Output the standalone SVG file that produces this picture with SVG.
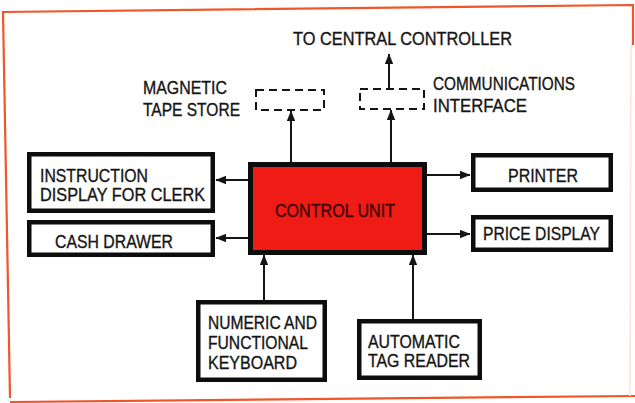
<svg xmlns="http://www.w3.org/2000/svg" width="635" height="403" viewBox="0 0 635 403">
<defs>
<style>
.t{font-family:"Liberation Sans",Arial,sans-serif;font-size:18px;fill:#151515;stroke:#151515;stroke-width:0.35}
.box{fill:#fff;stroke:#0d0d0d;stroke-width:4.5}
.dash{fill:none;stroke:#151515;stroke-width:2;stroke-dasharray:8 5}
.cu{fill:#ee1c14;stroke:#0d0d0d;stroke-width:5}
.ln{fill:none;stroke:#151515;stroke-width:2;marker-end:url(#ah)}
.fr{fill:none;stroke:#f0562a;stroke-width:2.2}
</style>
<marker id="ah" viewBox="0 0 10 8" refX="9.5" refY="4" markerWidth="5.5" markerHeight="4.4" markerUnits="strokeWidth" orient="auto">
<path d="M0,0 L10,4 L0,8 Z" fill="#151515"/>
</marker>
</defs>
<rect width="635" height="403" fill="#fff"/>
<g id="frame">
<path class="fr" d="M10,398 L3,12 L633,5 L633,45"/>
<path class="fr" d="M10,402 L635,396"/>
<path d="M631,45 L630,396" fill="none" stroke="#fbe3da" stroke-width="1.5"/>
</g>
<g id="connectors">
<path class="ln" d="M291,162 L291,111"/>
<path class="ln" d="M391,162 L391,110"/>
<path class="ln" d="M389,88 L389,54"/>
<path class="ln" d="M248,180 L216,180"/>
<path class="ln" d="M248,238 L216,238"/>
<path class="ln" d="M427,175 L470,175"/>
<path class="ln" d="M427,234 L470,234"/>
<path class="ln" d="M264,300 L264,255"/>
<path class="ln" d="M413,319 L413,255"/>
</g>
<g id="control-unit">
<rect class="cu" x="250.5" y="164.5" width="174" height="88"/>
<text class="t" x="275" y="217" textLength="120" lengthAdjust="spacingAndGlyphs" style="fill:#3a0606;stroke:#3a0606">CONTROL UNIT</text>
</g>
<g id="instruction-display">
<rect class="box" x="29.25" y="154.25" width="183.5" height="56.5"/>
<text class="t" x="40" y="182" textLength="108" lengthAdjust="spacingAndGlyphs">INSTRUCTION</text>
<text class="t" x="40" y="201" textLength="165" lengthAdjust="spacingAndGlyphs">DISPLAY FOR CLERK</text>
</g>
<g id="cash-drawer">
<rect class="box" x="29.25" y="222.25" width="183.5" height="32.5"/>
<text class="t" x="55" y="248" textLength="118" lengthAdjust="spacingAndGlyphs">CASH DRAWER</text>
</g>
<g id="printer">
<rect class="box" x="473.25" y="155.25" width="137.5" height="34.5"/>
<text class="t" x="508" y="182" textLength="70" lengthAdjust="spacingAndGlyphs">PRINTER</text>
</g>
<g id="price-display">
<rect class="box" x="473.25" y="217.25" width="137.5" height="32.5"/>
<text class="t" x="483" y="240" textLength="117" lengthAdjust="spacingAndGlyphs">PRICE DISPLAY</text>
</g>
<g id="keyboard">
<rect class="box" x="198.25" y="302.25" width="126.5" height="77.5"/>
<text class="t" x="208" y="329" textLength="109" lengthAdjust="spacingAndGlyphs">NUMERIC AND</text>
<text class="t" x="208" y="349" textLength="100" lengthAdjust="spacingAndGlyphs">FUNCTIONAL</text>
<text class="t" x="208" y="369" textLength="89" lengthAdjust="spacingAndGlyphs">KEYBOARD</text>
</g>
<g id="tag-reader">
<rect class="box" x="359.25" y="321.25" width="120.5" height="56.5"/>
<text class="t" x="368" y="348" textLength="92" lengthAdjust="spacingAndGlyphs">AUTOMATIC</text>
<text class="t" x="368" y="367" textLength="102" lengthAdjust="spacingAndGlyphs">TAG READER</text>
</g>
<g id="magnetic-tape-store">
<rect class="dash" x="256" y="90" width="68" height="20"/>
<text class="t" x="143" y="94" textLength="84" lengthAdjust="spacingAndGlyphs">MAGNETIC</text>
<text class="t" x="143" y="116" textLength="97" lengthAdjust="spacingAndGlyphs">TAPE STORE</text>
</g>
<g id="communications-interface">
<rect class="dash" x="360" y="89" width="64" height="20"/>
<text class="t" x="433" y="90" textLength="142" lengthAdjust="spacingAndGlyphs">COMMUNICATIONS</text>
<text class="t" x="433" y="112" textLength="94" lengthAdjust="spacingAndGlyphs">INTERFACE</text>
</g>
<g id="central-controller">
<text class="t" x="293" y="45" textLength="219" lengthAdjust="spacingAndGlyphs">TO CENTRAL CONTROLLER</text>
</g>
</svg>
